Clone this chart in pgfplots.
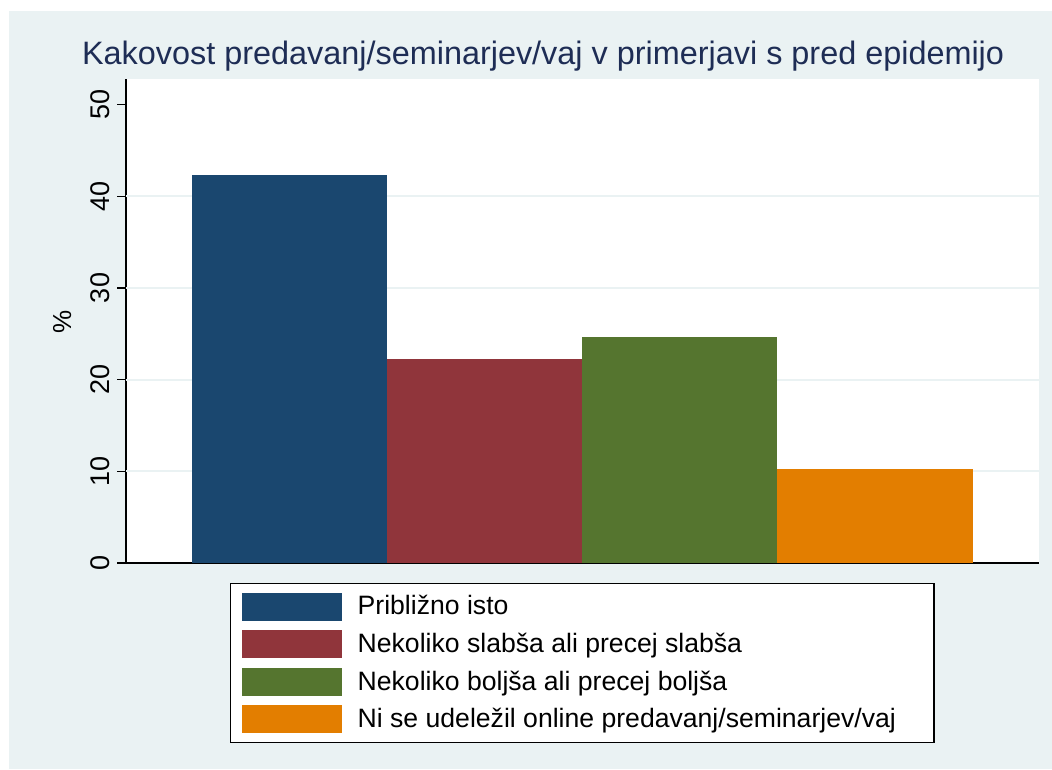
\documentclass[border=0pt]{standalone}
\usepackage{pgfplots}
\pgfplotsset{compat=1.18}
\usepackage{fontspec}
\setmainfont{Liberation Sans}
\definecolor{bgc}{HTML}{EAF2F3}
\definecolor{navyc}{HTML}{1A476F}
\definecolor{maroonc}{HTML}{90353B}
\definecolor{greenc}{HTML}{55752F}
\definecolor{orangec}{HTML}{E37E00}
\definecolor{titlec}{RGB}{30,45,85}
\begin{document}
\begin{tikzpicture}
\path[fill=white] (0,0) rectangle (526pt,384.5pt);
\fill[bgc] (4.5pt,0) rectangle (526pt,379pt);
\begin{axis}[
  at={(63pt,103pt)}, anchor=south west,
  scale only axis, width=456.5pt, height=242pt,
  xmin=0.162, xmax=4.84, ymin=0, ymax=52.8,
  ybar, bar width=1, bar shift=0pt,
  axis x line=bottom, axis y line=left,
  axis line style={-, black, line width=0.8pt},
  xtick=\empty,
  ytick={0,10,20,30,40,50},
  extra y ticks={10,20,30,40}, extra y tick labels={},
  extra y tick style={ymajorgrids=true, major tick length=0pt},
  major grid style={bgc, line width=1pt},
  tick align=outside, major tick length=4.5pt,
  tick style={black, line width=0.6pt},
  yticklabel style={rotate=90, anchor=south, font=\fontsize{13.5}{15}\selectfont},
  /pgf/number format/assume math mode=true,
  axis background/.style={fill=white},
  ylabel={\%},
  ylabel style={at={(axis description cs:-0.070,0.498)}, anchor=center, font=\fontsize{13}{15}\selectfont},
  legend image code/.code={\fill[#1] (0pt,-7pt) rectangle (50pt,7pt);},
  legend style={at={(axis description cs:0.1139,-0.0413)}, anchor=north west,
    draw=black, line width=0.7pt, fill=white,
    inner xsep=5.5pt, inner ysep=4.5pt, row sep=4.8pt, column sep=8pt,
    cells={anchor=west},
    nodes={inner sep=0pt},
    font=\fontsize{13.3}{15}\selectfont},
  legend cell align=left,
]
\addplot[fill=navyc, draw=none, bar shift=0pt] coordinates {(1,42.3)};
\addlegendentry{Približno isto}
\addplot[fill=maroonc, draw=none, bar shift=0pt] coordinates {(2,22.3)};
\addlegendentry{Nekoliko slabša ali precej slabša}
\addplot[fill=greenc, draw=none, bar shift=0pt] coordinates {(3,24.7)};
\addlegendentry{Nekoliko boljša ali precej boljša}
\addplot[fill=orangec, draw=none, bar shift=0pt] coordinates {(4,10.3)};
\addlegendentry{Ni se udeležil online predavanj/seminarjev/vaj\hspace*{13.5pt}}
\end{axis}
\node[anchor=base west, inner sep=0pt, text=titlec, font=\fontsize{16.2}{19}\selectfont] at (40.85pt,352pt) {Kakovost predavanj/seminarjev/vaj v primerjavi s pred epidemijo};
\end{tikzpicture}
\end{document}
